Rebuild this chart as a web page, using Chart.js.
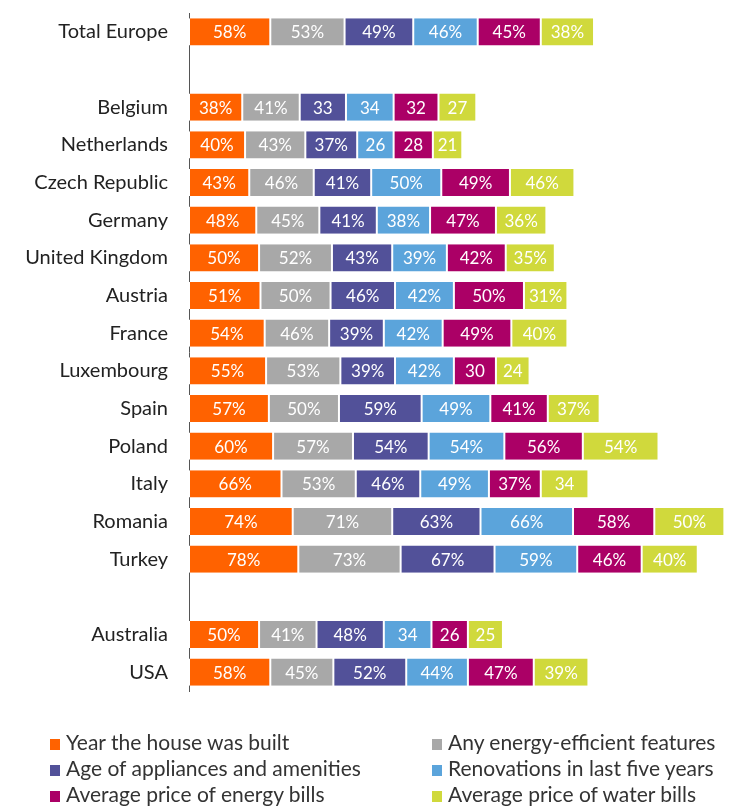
<!DOCTYPE html>
<html>
<head>
<meta charset="utf-8">
<script src="https://cdn.jsdelivr.net/npm/chart.js@4/dist/chart.umd.min.js"></script>
<style>
  html, body { margin: 0; padding: 0; background: #ffffff; overflow: hidden; }
  #wrap { position: relative; width: 744px; height: 809px; overflow: hidden; }
  #c { position: absolute; left: 0; top: -20px; }
  #legend { position: absolute; left: 0; top: 729px; width: 744px; font-family: Lato, "Open Sans", sans-serif; font-size: 21px; color: #333; }
  .li { position: absolute; white-space: nowrap; line-height: 26px; }
  .sw { display: inline-block; width: 10px; height: 11px; margin-right: 6px; vertical-align: 0px; }
</style>
</head>
<body>
<div id="wrap">
  <canvas id="c" width="744" height="809"></canvas>
  <div id="legend"></div>
</div>
<script>
const categories = ["Total Europe", "", "Belgium", "Netherlands", "Czech Republic", "Germany", "United Kingdom", "Austria", "France", "Luxembourg", "Spain", "Poland", "Italy", "Romania", "Turkey", "", "Australia", "USA"];

const seriesNames = ["Year the house was built", "Any energy-efficient features", "Age of appliances and amenities", "Renovations in last five years", "Average price of energy bills", "Average price of water bills"];
const seriesColors = ["#FF6200", "#A8A8A8", "#525199", "#5BA4DB", "#AB0066", "#D0D93C"];

const yearBuilt      = [58, null, 38, 40, 43, 48, 50, 51, 54, 55, 57, 60, 66, 74, 78, null, 50, 58];
const energyFeatures = [53, null, 41, 43, 46, 45, 52, 50, 46, 53, 50, 57, 53, 71, 73, null, 41, 45];
const appliances     = [49, null, 33, 37, 41, 41, 43, 46, 39, 39, 59, 54, 46, 63, 67, null, 48, 52];
const renovations    = [46, null, 34, 26, 50, 38, 39, 42, 42, 42, 49, 54, 49, 66, 59, null, 34, 44];
const energyBills    = [45, null, 32, 28, 49, 47, 42, 50, 49, 30, 41, 56, 37, 58, 46, null, 26, 47];
const waterBills     = [38, null, 27, 21, 46, 36, 35, 31, 40, 24, 37, 54, 34, 50, 40, null, 25, 39];

// cells whose label is printed without a percent sign (series index per category)
const noPercent = {
  "Belgium": [2, 3, 4, 5],
  "Netherlands": [3, 4, 5],
  "Luxembourg": [4, 5],
  "Italy": [5],
  "Australia": [3, 4, 5]
};

const seriesValues = [yearBuilt, energyFeatures, appliances, renovations, energyBills, waterBills];

const datasets = seriesValues.map((vals, i) => ({
  label: seriesNames[i],
  data: vals,
  backgroundColor: seriesColors[i],
  borderColor: "#ffffff",
  borderWidth: { left: 1, right: 1, top: 0, bottom: 0 },
  borderSkipped: false,
  barPercentage: 0.72,
  categoryPercentage: 1.0
}));

const labelPlugin = {
  id: "segLabels",
  afterDatasetsDraw(chart) {
    const ctx = chart.ctx;
    ctx.save();
    ctx.font = "17px Lato, 'Open Sans', sans-serif";
    ctx.fillStyle = "#ffffff";
    ctx.textAlign = "center";
    ctx.textBaseline = "middle";
    chart.data.datasets.forEach((ds, di) => {
      const meta = chart.getDatasetMeta(di);
      meta.data.forEach((el, idx) => {
        const v = ds.data[idx];
        if (v === null || v === undefined) return;
        const cat = categories[idx];
        const np = noPercent[cat] && noPercent[cat].includes(di);
        const txt = v + (np ? "" : "%");
        const cx = (el.x + el.base) / 2;
        ctx.fillText(txt, cx, el.y + 1);
      });
    });
    ctx.restore();
  }
};

new Chart(document.getElementById("c"), {
  type: "bar",
  data: { labels: categories, datasets: datasets },
  plugins: [labelPlugin],
  options: {
    indexAxis: "y",
    responsive: false,
    animation: false,
    layout: { padding: { top: 0, bottom: 98, right: 0, left: 0 } },
    plugins: { legend: { display: false }, tooltip: { enabled: false } },
    scales: {
      x: {
        stacked: true,
        display: false,
        min: 0,
        max: 396
      },
      y: {
        stacked: true,
        grid: { display: false, drawTicks: false },
        border: { display: true, color: "#555555", width: 1 },
        ticks: {
          color: "#222222",
          padding: 21,
          font: { family: "Lato, 'Open Sans', sans-serif", size: 20 }
        },
        afterFit(scale) { scale.width = 189; }
      }
    }
  }
});

// HTML legend built from the series arrays
const legend = document.getElementById("legend");
const positions = [[50, 0], [432, 0], [50, 26], [432, 26], [50, 52], [432, 52]];
seriesNames.forEach((name, i) => {
  const d = document.createElement("div");
  d.className = "li";
  d.style.left = positions[i][0] + "px";
  d.style.top = positions[i][1] + "px";
  d.innerHTML = '<span class="sw" style="background:' + seriesColors[i] + '"></span>' + name;
  legend.appendChild(d);
});
</script>
</body>
</html>
